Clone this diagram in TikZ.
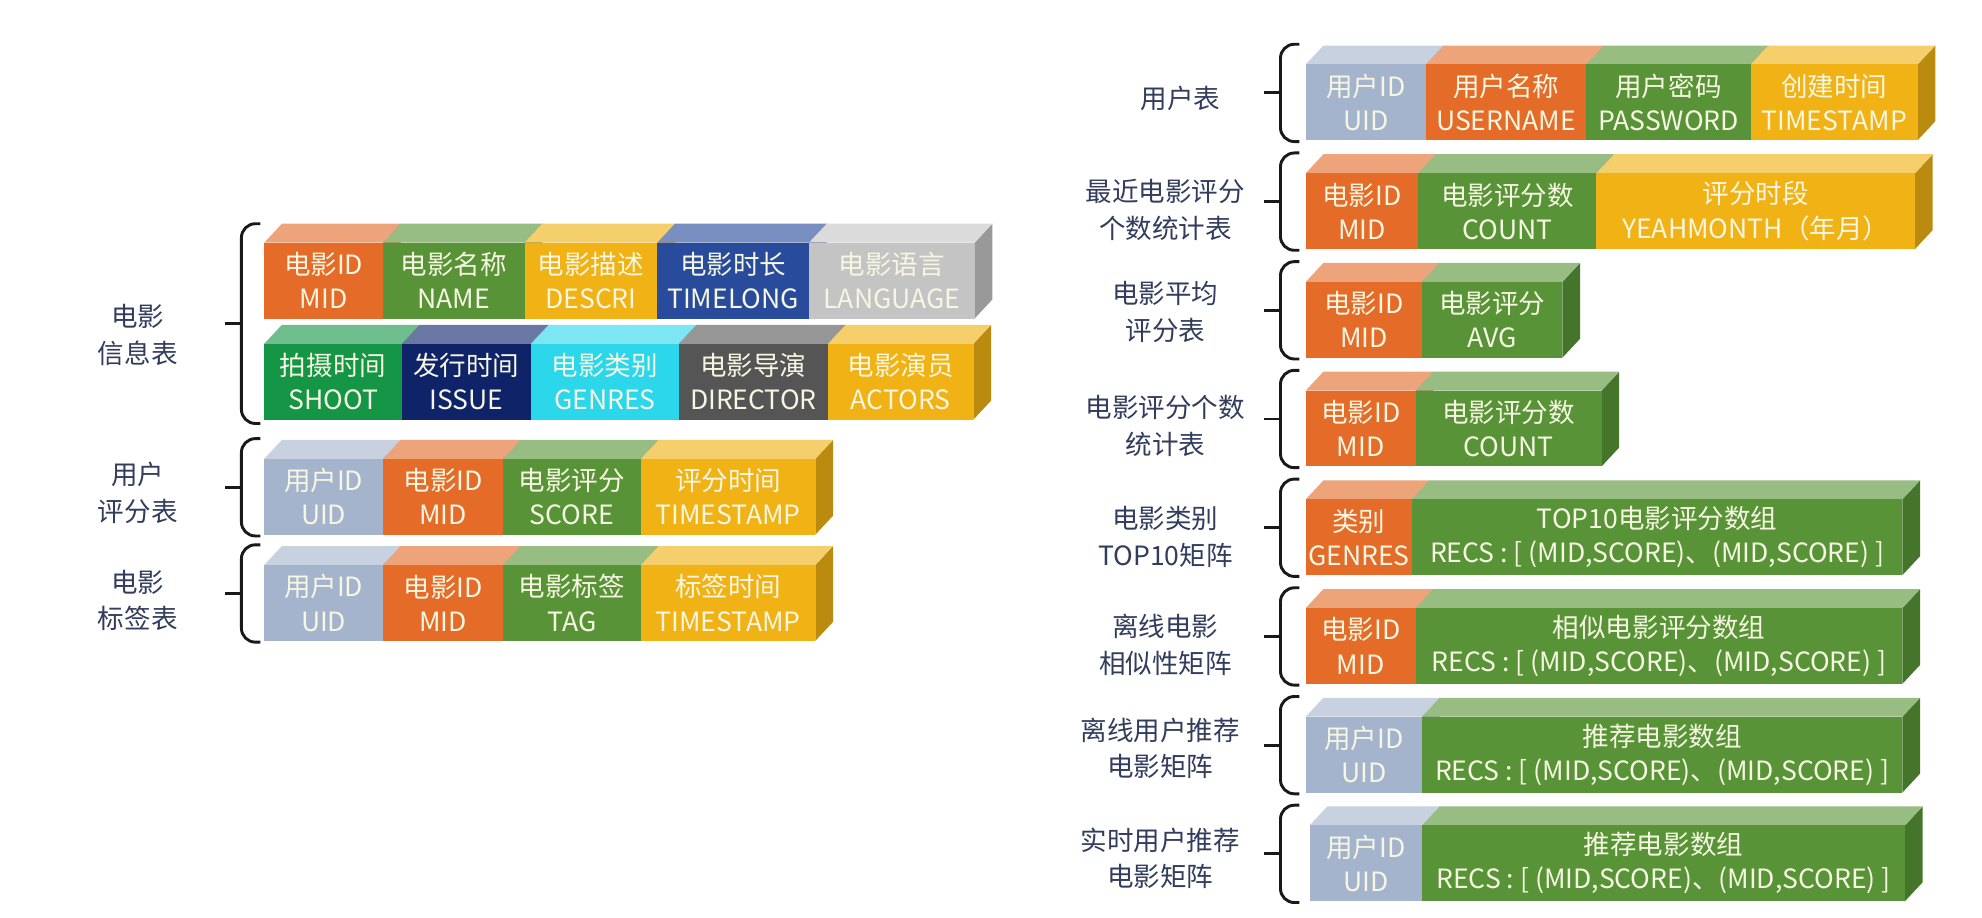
\documentclass[tikz,border=0pt]{standalone}
\usepackage{fontspec}
\setmainfont{Noto Sans CJK SC}

\begin{document}
\begin{tikzpicture}[x=1pt, y=-1pt,
  field/.style={inner sep=0pt, outer sep=0pt, text=fieldtxt, align=center,
    font=\fontsize{21}{27}\selectfont, minimum height=60pt},
  tbl/.style={text=labtxt, align=center, font=\fontsize{21}{29}\selectfont},
  brc/.style={draw=bracec, line width=2.3pt, rounded corners=11pt}]
% Define colors
\definecolor{fieldtxt}{RGB}{246,246,226}
\definecolor{labtxt}{RGB}{50,60,92}
\definecolor{bracec}{RGB}{25,25,25}
\definecolor{mvOrange}{RGB}{228,108,40}
\definecolor{mvGreen}{RGB}{88,148,55}
\definecolor{mvGold}{RGB}{240,178,20}
\definecolor{mvBlue}{RGB}{40,75,155}
\definecolor{mvSilver}{RGB}{196,196,196}
\definecolor{mvLeaf}{RGB}{20,150,70}
\definecolor{mvNavy}{RGB}{15,35,105}
\definecolor{mvCyan}{RGB}{45,215,235}
\definecolor{mvSlate}{RGB}{85,85,85}
\definecolor{mvUid}{RGB}{165,180,205}

\useasboundingbox (0,0) rectangle (1568,726);

% fields: side face, top face, front face
\foreach \xa/\xb/\yf/\fc/\ta/\tb [count=\i] in {
  209/303/192/mvOrange/电影ID/MID, 303/415/192/mvGreen/电影名称/NAME,
  415/520/192/mvGold/电影描述/DESCRI, 520/640/192/mvBlue/电影时长/TIMELONG,
  640/771/192/mvSilver/电影语言/LANGUAGE,
  209/318/272/mvLeaf/拍摄时间/SHOOT, 318/420/272/mvNavy/发行时间/ISSUE,
  420/537/272/mvCyan/电影类别/GENRES, 537/655/272/mvSlate/电影导演/DIRECTOR,
  655/770/272/mvGold/电影演员/ACTORS,
  209/303/363/mvUid/用户ID/UID, 303/398/363/mvOrange/电影ID/MID,
  398/507/363/mvGreen/电影评分/SCORE, 507/645/363/mvGold/评分时间/TIMESTAMP,
  209/303/447/mvUid/用户ID/UID, 303/398/447/mvOrange/电影ID/MID,
  398/507/447/mvGreen/电影标签/TAG, 507/645/447/mvGold/标签时间/TIMESTAMP,
  1033/1128/51/mvUid/用户ID/UID, 1128/1255/51/mvOrange/用户名称/USERNAME,
  1255/1385/51/mvGreen/用户密码/PASSWORD, 1385/1517/51/mvGold/创建时间/TIMESTAMP,
  1033/1122/137/mvOrange/电影ID/MID, 1122/1263/137/mvGreen/电影评分数/COUNT,
  1263/1515/137/mvGold/评分时段/YEAHMONTH（年月）,
  1033/1125/223/mvOrange/电影ID/MID, 1125/1236/223/mvGreen/电影评分/AVG,
  1033/1120/309/mvOrange/电影ID/MID, 1120/1267/309/mvGreen/电影评分数/COUNT,
  1033/1117/395/mvOrange/类别/GENRES,
  1117/1505/395/mvGreen/TOP10电影评分数组/{RECS : [ (MID,SCORE)、(MID,SCORE) ]},
  1033/1120/481/mvOrange/电影ID/MID,
  1120/1505/481/mvGreen/相似电影评分数组/{RECS : [ (MID,SCORE)、(MID,SCORE) ]},
  1033/1125/567/mvUid/用户ID/UID,
  1125/1505/567/mvGreen/推荐电影数组/{RECS : [ (MID,SCORE)、(MID,SCORE) ]},
  1036/1125/653/mvUid/用户ID/UID,
  1125/1507/653/mvGreen/推荐电影数组/{RECS : [ (MID,SCORE)、(MID,SCORE) ]}}
{
  \fill[\fc!78!black] (\xb,\yf) -- ++(14,-15) -- ++(0,60) -- (\xb,\yf+60) -- cycle;
  \fill[\fc!62!white] (\xa,\yf) -- ++(14,-15) -- (\xb+14,\yf-15) -- (\xb,\yf) -- cycle;
  \node[field, fill=\fc, minimum width={\xb-\xa}] (f\i) at ({(\xa+\xb)/2},\yf+30) {\ta\\\tb};
}

% table names and braces
\foreach \xl/\yl/\xc/\ya/\yb/\txt [count=\i] in {
  109/265/191/177/335/电影\\信息表, 109/390/191/347/424/用户\\评分表,
  109/475/191/431/508/电影\\标签表,
  934/78/1013/35/112/用户表, 922/166/1013/121/198/最近电影评分\\个数统计表,
  922/247/1013/207/284/电影平均\\评分表, 922/337/1013/293/370/电影评分个数\\统计表,
  922/425/1013/379/456/电影类别\\TOP10矩阵, 922/510/1013/465/542/离线电影\\相似性矩阵,
  918/592/1013/551/628/离线用户推荐\\电影矩阵, 918/679/1013/637/714/实时用户推荐\\电影矩阵}
{
  \node[tbl] (t\i) at (\xl,\yl) {\txt};
  \draw[brc] (\xc+15,\ya) -- (\xc,\ya) -- (\xc,\yb) -- (\xc+15,\yb);
  \draw[brc] (\xc,{(\ya+\yb)/2}) -- ++(-13,0);
}
\end{tikzpicture}
\end{document}
